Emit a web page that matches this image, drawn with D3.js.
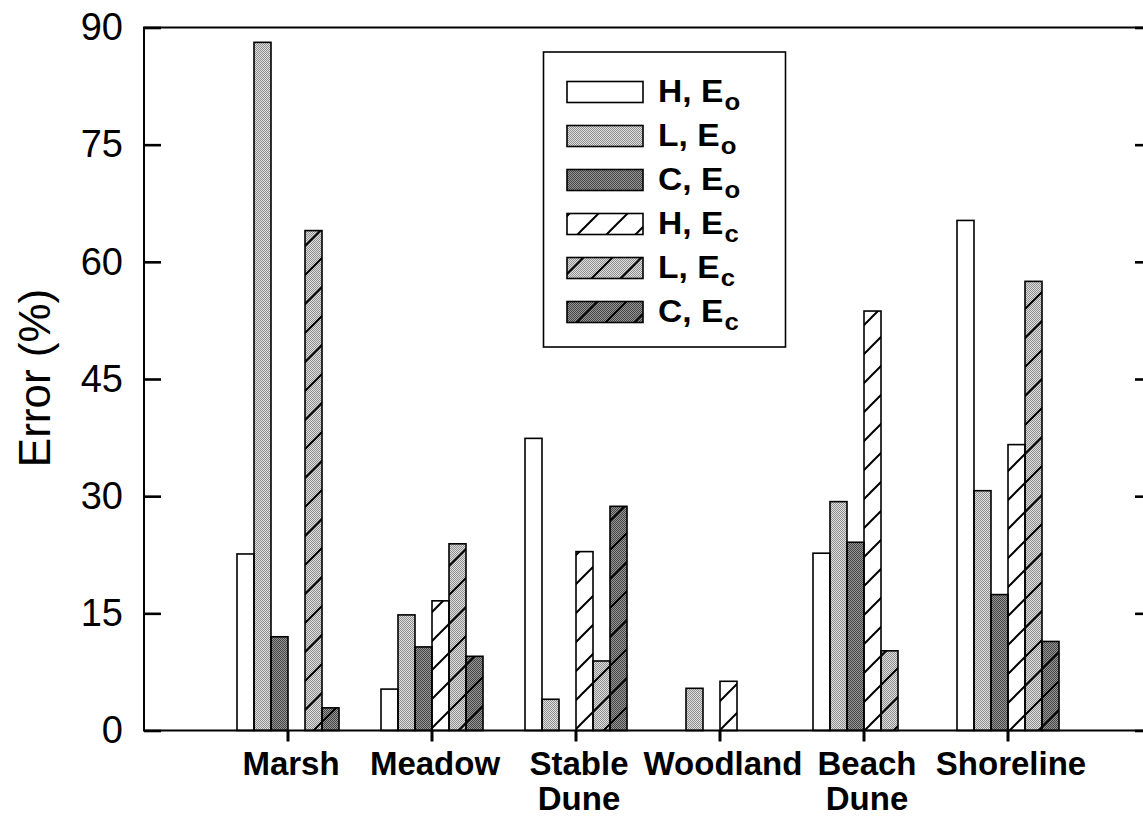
<!DOCTYPE html>
<html>
<head>
<meta charset="utf-8">
<script src="https://d3js.org/d3.v7.min.js"></script>
<style>
  html, body { margin: 0; padding: 0; background: #fff; }
  svg { display: block; font-family: "Liberation Sans", Arial, Helvetica, sans-serif; }
</style>
</head>
<body>
<script>
// Habitat classes along the x axis ("\n" splits a label over two lines)
const categories = ["Marsh", "Meadow", "Stable\nDune", "Woodland", "Beach\nDune", "Shoreline"];

// Series keys, in drawing order inside each group
const seriesKeys = ["hEo", "lEo", "cEo", "hEc", "lEc", "cEc"];

// Error (%) per habitat for each series
const hEo = [22.6, 5.3, 37.4, 0, 22.7, 65.3];
const lEo = [88.1, 14.8, 4.0, 5.4, 29.3, 30.7];
const cEo = [12.0, 10.7, 0, 0, 24.1, 17.4];
const hEc = [0, 16.6, 22.9, 6.3, 53.7, 36.6];
const lEc = [64.0, 23.9, 8.9, 0, 10.2, 57.5];
const cEc = [2.9, 9.5, 28.7, 0, 0, 11.4];

// Legend labels: main text and subscript
const legendMain = ["H, E", "L, E", "C, E", "H, E", "L, E", "C, E"];
const legendSub = ["o", "o", "o", "c", "c", "c"];

// Y axis ticks
const yTicks = [0, 15, 30, 45, 60, 75, 90];

const seriesValues = { hEo, lEo, cEo, hEc, lEc, cEc };

// Fill style per series: base tone and whether diagonal hatching is laid over it
const styleOf = {
  hEo: { base: "#ffffff", hatch: false },
  lEo: { base: "url(#ditherL)", hatch: false },
  cEo: { base: "url(#ditherC)", hatch: false },
  hEc: { base: "#ffffff", hatch: true },
  lEc: { base: "url(#ditherL)", hatch: true },
  cEc: { base: "url(#ditherC)", hatch: true }
};

const W = 1143, H = 817;
const plotLeft = 144, plotRight = 1152, plotTop = 27.5, plotBottom = 730.5;

const svg = d3.select("body").append("svg").attr("width", W).attr("height", H);
const defs = svg.append("defs");

// Dithered gray tones
function dither(id, a, b) {
  const p = defs.append("pattern").attr("id", id)
    .attr("patternUnits", "userSpaceOnUse").attr("width", 2).attr("height", 2);
  p.append("rect").attr("width", 2).attr("height", 2).attr("fill", a);
  p.append("rect").attr("width", 1).attr("height", 1).attr("fill", b);
  p.append("rect").attr("x", 1).attr("y", 1).attr("width", 1).attr("height", 1).attr("fill", b);
}
dither("ditherL", "#e0e0e0", "#8e8e8e");
dither("ditherC", "#969696", "#454545");

// Diagonal hatching
const hs = 29;
const hatch = defs.append("pattern").attr("id", "hatch")
  .attr("patternUnits", "userSpaceOnUse").attr("width", hs).attr("height", hs);
hatch.append("path")
  .attr("d", `M0,${hs} L${hs},0 M-4,4 L4,-4 M${hs - 4},${hs + 4} L${hs + 4},${hs - 4}`)
  .attr("stroke", "#000").attr("stroke-width", 2).attr("fill", "none");

// Scales
const x0 = d3.scaleBand().domain(categories).range([plotLeft + 72, plotRight - 72]).padding(0);
const x1 = d3.scaleBand().domain(seriesKeys).range([21, 123]).padding(0);
const y = d3.scaleLinear().domain([0, 90]).range([plotBottom, plotTop]);

// Bars
const bars = [];
categories.forEach((c, i) => {
  seriesKeys.forEach(k => {
    const v = seriesValues[k][i];
    if (v > 0) bars.push({ c, k, v });
  });
});

const barG = svg.append("g");
barG.selectAll("rect.base").data(bars).join("rect")
  .attr("class", "base")
  .attr("x", d => x0(d.c) + x1(d.k))
  .attr("y", d => y(d.v))
  .attr("width", x1.bandwidth())
  .attr("height", d => y(0) - y(d.v))
  .attr("fill", d => styleOf[d.k].base);
barG.selectAll("rect.hatch").data(bars.filter(d => styleOf[d.k].hatch)).join("rect")
  .attr("class", "hatch")
  .attr("x", d => x0(d.c) + x1(d.k))
  .attr("y", d => y(d.v))
  .attr("width", x1.bandwidth())
  .attr("height", d => y(0) - y(d.v))
  .attr("fill", "url(#hatch)");
barG.selectAll("rect.edge").data(bars).join("rect")
  .attr("class", "edge")
  .attr("x", d => x0(d.c) + x1(d.k))
  .attr("y", d => y(d.v))
  .attr("width", x1.bandwidth())
  .attr("height", d => y(0) - y(d.v))
  .attr("fill", "none").attr("stroke", "#000").attr("stroke-width", 1.6);

// Frame
svg.append("rect")
  .attr("x", plotLeft).attr("y", plotTop).attr("width", plotRight - plotLeft).attr("height", plotBottom - plotTop)
  .attr("fill", "none").attr("stroke", "#000").attr("stroke-width", 2);

// Left axis (ticks point inward)
const yAxisL = svg.append("g").attr("transform", `translate(${plotLeft},0)`)
  .call(d3.axisLeft(y).tickValues(yTicks).tickSizeInner(-17).tickSizeOuter(0).tickPadding(21));
yAxisL.select(".domain").remove();
yAxisL.selectAll("line").attr("stroke", "#000").attr("stroke-width", 2.6);
yAxisL.selectAll("text").attr("font-size", 38).attr("fill", "#000")
  .attr("font-family", "'Liberation Sans', Arial, sans-serif");

// Right axis (ticks only)
const yAxisR = svg.append("g").attr("transform", `translate(${plotRight},0)`)
  .call(d3.axisRight(y).tickValues(yTicks).tickSizeInner(-17).tickSizeOuter(0).tickFormat(""));
yAxisR.select(".domain").remove();
yAxisR.selectAll("line").attr("stroke", "#000").attr("stroke-width", 2.6);

// Bottom axis: ticks at group centres
const xAxis = svg.append("g").attr("transform", `translate(0,${plotBottom})`)
  .call(d3.axisBottom(x0).tickSizeInner(11).tickSizeOuter(0).tickFormat(""));
xAxis.select(".domain").remove();
xAxis.selectAll("line").attr("stroke", "#000").attr("stroke-width", 3);

// Category labels
const labelG = svg.append("g");
categories.forEach(c => {
  const cx = x0(c) + x0.bandwidth() / 2 + 3;
  const t = labelG.append("text")
    .attr("x", cx)
    .attr("y", 775)
    .attr("text-anchor", "middle")
    .attr("font-size", 33).attr("font-weight", "bold").attr("fill", "#000");
  c.split("\n").forEach((line, j) => {
    t.append("tspan").attr("x", cx).attr("dy", j === 0 ? 0 : 35).text(line);
  });
});

// Y axis title
svg.append("text")
  .attr("transform", "translate(50,378) rotate(-90)")
  .attr("text-anchor", "middle")
  .attr("font-size", 44).attr("fill", "#000")
  .text("Error (%)");

// Legend
const lg = svg.append("g");
lg.append("rect").attr("x", 543.5).attr("y", 52).attr("width", 242).attr("height", 295)
  .attr("fill", "#fff").attr("stroke", "#000").attr("stroke-width", 1.6);
seriesKeys.forEach((k, i) => {
  const cy = 92 + i * 44;
  const sx = 567, sw = 76, sh = 21;
  lg.append("rect").attr("x", sx).attr("y", cy - sh / 2).attr("width", sw).attr("height", sh)
    .attr("fill", styleOf[k].base);
  if (styleOf[k].hatch) {
    lg.append("rect").attr("x", sx).attr("y", cy - sh / 2).attr("width", sw).attr("height", sh)
      .attr("fill", "url(#hatch)");
  }
  lg.append("rect").attr("x", sx).attr("y", cy - sh / 2).attr("width", sw).attr("height", sh)
    .attr("fill", "none").attr("stroke", "#000").attr("stroke-width", 1.6);
  const t = lg.append("text")
    .attr("transform", `translate(658,${cy + 10}) scale(1.12,1.05)`)
    .attr("font-size", 30).attr("font-weight", "bold").attr("fill", "#000");
  t.append("tspan").text(legendMain[i]);
  t.append("tspan").attr("font-size", 23).attr("dx", 1).attr("dy", 8).text(legendSub[i]);
});
</script>
</body>
</html>
